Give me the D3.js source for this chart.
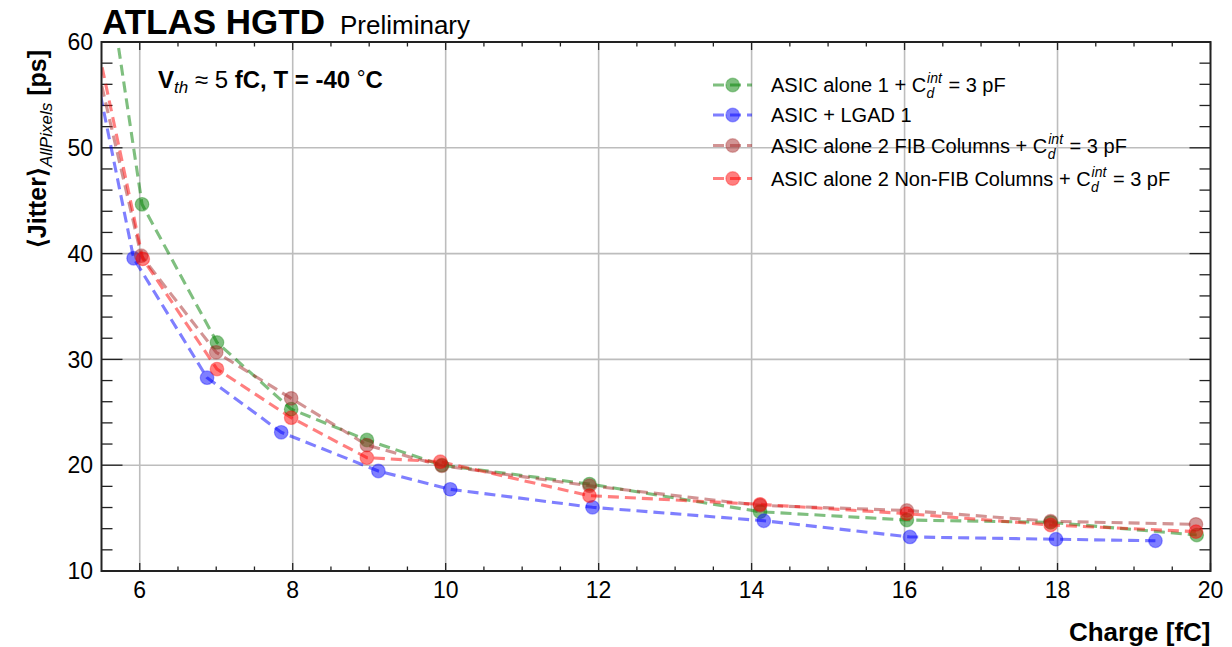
<!DOCTYPE html>
<html>
<head>
<meta charset="utf-8">
<script src="https://cdn.jsdelivr.net/npm/d3@7"></script>
<style>
  html, body { margin: 0; padding: 0; background: #ffffff; }
  svg { display: block; font-family: "Liberation Sans", Arial, Helvetica, sans-serif; }
  text { white-space: pre; }
</style>
</head>
<body>
<svg id="chart" width="1232" height="647"></svg>
<script>
// Mean jitter vs injected charge, four ASIC / sensor configurations.
// The first entry of each series lies below the visible charge range and is clipped.
const chargeAsicAlone1   = [5.0, 6.03, 7.01, 7.98, 8.97, 9.95, 11.88, 14.11, 16.03, 17.91, 19.82];
const jitterAsicAlone1   = [94.4, 44.66, 31.6, 25.3, 22.38, 20.0, 18.22, 15.6, 14.82, 14.6, 13.4];

const chargeAsicLgad1    = [5.0, 5.92, 6.88, 7.85, 9.12, 10.06, 11.92, 14.16, 16.07, 17.98, 19.28];
const jitterAsicLgad1    = [72.3, 39.56, 28.27, 23.11, 19.45, 17.72, 16.02, 14.75, 13.22, 13.0, 12.86];

const chargeAsic2Fib     = [5.0, 6.02, 7.0, 7.98, 8.97, 9.95, 11.88, 14.11, 16.03, 17.91, 19.81];
const jitterAsic2Fib     = [71.5, 39.8, 30.67, 26.32, 21.9, 19.95, 18.06, 16.2, 15.72, 14.7, 14.41];

const chargeAsic2NonFib  = [5.0, 6.04, 7.01, 7.98, 8.97, 9.93, 11.88, 14.11, 16.03, 17.91, 19.81];
const jitterAsic2NonFib  = [74.9, 39.5, 29.09, 24.49, 20.71, 20.33, 17.12, 16.3, 15.42, 14.35, 13.72];

const seriesNames = [
  "ASIC alone 1 + C",
  "ASIC + LGAD 1",
  "ASIC alone 2 FIB Columns + C",
  "ASIC alone 2 Non-FIB Columns + C"
];
const seriesHasCap = [true, false, true, true];
const seriesColors = ["green", "blue", "brown", "red"];

const xTickLabels = [6, 8, 10, 12, 14, 16, 18, 20];
const yTickLabels = [10, 20, 30, 40, 50, 60];
const xDomain = [5.5, 20];
const yDomain = [10, 60];

const series = [
  { x: chargeAsicAlone1,  y: jitterAsicAlone1 },
  { x: chargeAsicLgad1,   y: jitterAsicLgad1 },
  { x: chargeAsic2Fib,    y: jitterAsic2Fib },
  { x: chargeAsic2NonFib, y: jitterAsic2NonFib }
].map((s, i) => ({
  name: seriesNames[i], cap: seriesHasCap[i], color: seriesColors[i],
  points: s.x.map((c, j) => ({ c, j: s.y[j] }))
}));

const svg = d3.select("#chart");
const pL = 101.5, pR = 1210.5, pT = 42, pB = 571;

const x = d3.scaleLinear().domain(xDomain).range([pL, pR]);
const y = d3.scaleLinear().domain(yDomain).range([pB, pT]);

svg.append("defs").append("clipPath").attr("id", "plotClip")
  .append("rect").attr("x", pL).attr("y", pT)
  .attr("width", pR - pL).attr("height", pB - pT);

// Grid at major ticks
const grid = svg.append("g").attr("stroke", "#bdbdbd").attr("stroke-width", 1.6);
grid.selectAll("line.gx").data(xTickLabels.filter(v => v > xDomain[0] && v < xDomain[1]))
  .join("line").attr("class", "gx").attr("x1", d => x(d)).attr("x2", d => x(d)).attr("y1", pT).attr("y2", pB);
grid.selectAll("line.gy").data(yTickLabels.filter(v => v > yDomain[0] && v < yDomain[1]))
  .join("line").attr("class", "gy").attr("y1", d => y(d)).attr("y2", d => y(d)).attr("x1", pL).attr("x2", pR);

// Ticks, pointing inward on all four sides
const ticks = svg.append("g").attr("stroke", "#222").attr("stroke-width", 1.3);
const xMinor = d3.range(6, 20.01, 0.5).filter(v => !xTickLabels.includes(v));
const yMinor = d3.range(12, 60, 2).filter(v => !yTickLabels.includes(v));
function xt(vals, len) {
  vals.forEach(v => {
    ticks.append("line").attr("x1", x(v)).attr("x2", x(v)).attr("y1", pB).attr("y2", pB - len);
    ticks.append("line").attr("x1", x(v)).attr("x2", x(v)).attr("y1", pT).attr("y2", pT + len);
  });
}
function yt(vals, len) {
  vals.forEach(v => {
    ticks.append("line").attr("y1", y(v)).attr("y2", y(v)).attr("x1", pL).attr("x2", pL + len);
    ticks.append("line").attr("y1", y(v)).attr("y2", y(v)).attr("x1", pR).attr("x2", pR - len);
  });
}
xt(xTickLabels, 8); xt(xMinor, 4.5);
yt(yTickLabels, 21); yt(yMinor, 11);

// Data
const plot = svg.append("g").attr("clip-path", "url(#plotClip)");
const line = d3.line().x(d => x(d.c)).y(d => y(d.j));
series.forEach(s => {
  const g = plot.append("g").attr("opacity", 0.5);
  g.append("path").attr("d", line(s.points)).attr("fill", "none")
    .attr("stroke", s.color).attr("stroke-width", 3.1).attr("stroke-dasharray", "11,6");
});
series.forEach(s => {
  plot.append("g").selectAll("circle").data(s.points).join("circle")
    .attr("cx", d => x(d.c)).attr("cy", d => y(d.j)).attr("r", 6.8)
    .attr("fill", s.color).attr("fill-opacity", 0.5)
    .attr("stroke", s.color).attr("stroke-opacity", 0.35).attr("stroke-width", 1.2);
});

// Frame
svg.append("rect").attr("x", pL).attr("y", pT).attr("width", pR - pL).attr("height", pB - pT)
  .attr("fill", "none").attr("stroke", "#222").attr("stroke-width", 2);

// Tick labels
svg.append("g").selectAll("text").data(xTickLabels).join("text")
  .attr("x", d => x(d)).attr("y", 598).attr("text-anchor", "middle")
  .attr("font-size", 23).text(d => d);
svg.append("g").selectAll("text").data(yTickLabels).join("text")
  .attr("x", 93).attr("y", d => y(d) + 8.2).attr("text-anchor", "end")
  .attr("font-size", 23).text(d => d);

// Axis titles
svg.append("text").attr("x", pR).attr("y", 641).attr("text-anchor", "end")
  .attr("font-size", 26).attr("font-weight", "bold").text("Charge [fC]");

const yl = svg.append("text").attr("transform", "translate(46,50) rotate(-90)")
  .attr("text-anchor", "end").attr("font-size", 25).attr("font-weight", "bold");
yl.append("tspan").text("\u27E8Jitter\u27E9");
yl.append("tspan").attr("font-size", 17).attr("font-weight", "normal").attr("font-style", "italic")
  .attr("dy", 6).text("AllPixels");
yl.append("tspan").attr("dy", -6).text(" [ps]");

// Header
svg.append("text").attr("x", 102).attr("y", 34).attr("font-size", 35).attr("font-weight", "bold")
  .text("ATLAS HGTD");
svg.append("text").attr("x", 340).attr("y", 34).attr("font-size", 26).text("Preliminary");

// Operating conditions
const ann = svg.append("text").attr("x", 158).attr("y", 88).attr("font-size", 24).attr("font-weight", "bold");
ann.append("tspan").text("V");
ann.append("tspan").attr("font-weight", "normal").attr("font-style", "italic").attr("font-size", 17)
  .attr("dy", 5).text("th");
ann.append("tspan").attr("font-weight", "normal").attr("dy", -5).text(" \u2248 5");
ann.append("tspan").text(" fC, T = -40 ");
ann.append("tspan").attr("font-weight", "normal").attr("font-size", 22).attr("dy", -2).text("\u00B0");
ann.append("tspan").attr("dy", 2).text("C");

// Legend
const legRows = [85, 115, 145.5, 178.5];
const leg = svg.append("g");
series.forEach((s, i) => {
  const ry = legRows[i];
  const g = leg.append("g");
  g.append("line").attr("x1", 713).attr("x2", 752).attr("y1", ry).attr("y2", ry)
    .attr("stroke", s.color).attr("stroke-opacity", 0.5).attr("stroke-width", 3.1)
    .attr("stroke-dasharray", "11,6");
  g.append("circle").attr("cx", 732.7).attr("cy", ry).attr("r", 6.8)
    .attr("fill", s.color).attr("fill-opacity", 0.5)
    .attr("stroke", s.color).attr("stroke-opacity", 0.35).attr("stroke-width", 1.2);
  const fs = 20;
  const t = g.append("text").attr("x", 771).attr("y", ry + 7).attr("font-size", fs).text(s.name);
  if (s.cap) {
    const w = t.node().getComputedTextLength();
    const sup = g.append("text").attr("x", 771 + w + 1).attr("y", ry - 2).attr("font-size", 14)
      .attr("font-style", "italic").text("int");
    const sub = g.append("text").attr("x", 771 + w + 0.5).attr("y", ry + 13).attr("font-size", 14)
      .attr("font-style", "italic").text("d");
    const w2 = Math.max(sup.node().getComputedTextLength(), sub.node().getComputedTextLength());
    g.append("text").attr("x", 771 + w + w2 + 2).attr("y", ry + 7).attr("font-size", fs).text(" = 3 pF");
  }
});
</script>
</body>
</html>
